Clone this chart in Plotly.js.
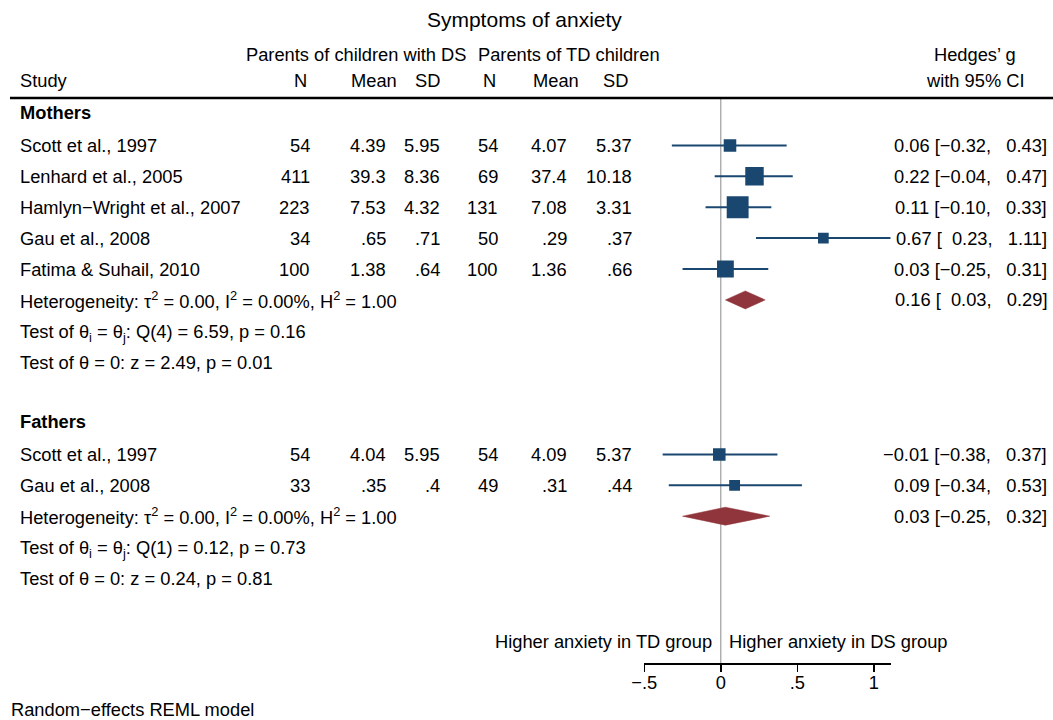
<!DOCTYPE html>
<html>
<head>
<meta charset="utf-8">
<script src="https://cdn.plot.ly/plotly-3.0.1.min.js"></script>
<style>html,body{margin:0;padding:0;background:#fff}</style>
</head>
<body>
<div id="chart" style="width:1053px;height:720px"></div>
<script>
// ---- Mothers ----
const mStudy  = ['Scott et al., 1997', 'Lenhard et al., 2005', 'Hamlyn\u2212Wright et al., 2007', 'Gau et al., 2008', 'Fatima & Suhail, 2010'];
const mNDS    = [54, 411, 223, 34, 100];
const mMeanDS = [4.39, 39.3, 7.53, 0.65, 1.38];
const mSdDS   = [5.95, 8.36, 4.32, 0.71, 0.64];
const mNTD    = [54, 69, 131, 50, 100];
const mMeanTD = [4.07, 37.4, 7.08, 0.29, 1.36];
const mSdTD   = ['5.37', '10.18', '3.31', '.37', '.66'];
const mG      = [0.06, 0.22, 0.11, 0.67, 0.03];
const mLo     = [-0.32, -0.04, -0.10, 0.23, -0.25];
const mHi     = [0.43, 0.47, 0.33, 1.11, 0.31];
const mWeight = [27.3, 59.1, 83.1, 19.8, 49.0];   // inverse-variance weights
const mPooled = [0.16, 0.03, 0.29];               // estimate, lower, upper
const mQ      = [4, 6.59, 0.16];                  // df, Q, p
const mZ      = [2.49, 0.01];                     // z, p

// ---- Fathers ----
const fStudy  = ['Scott et al., 1997', 'Gau et al., 2008'];
const fNDS    = [54, 33];
const fMeanDS = [4.04, 0.35];
const fSdDS   = [5.95, 0.4];
const fNTD    = [54, 49];
const fMeanTD = [4.09, 0.31];
const fSdTD   = ['5.37', '.44'];
const fG      = [-0.01, 0.09];
const fLo     = [-0.38, -0.34];
const fHi     = [0.37, 0.53];
const fWeight = [27.3, 20.3];
const fPooled = [0.03, -0.25, 0.32];
const fQ      = [1, 0.12, 0.73];
const fZ      = [0.24, 0.81];

const hetero = ['0.00', '0.00%', '1.00'];          // tau2, I2, H2 (same in both groups)

// ---- Axis ticks ----
const tickVals = [-0.5, 0, 0.5, 1];
const tickText = ['\u2212.5', '0', '.5', '1'];

// ---------------------------------------------------------------
const W = 1053, H = 720;
const FONT = '"Liberation Sans", Arial, Helvetica, sans-serif';
const FS = 18.3;
const NAVY = '#1a476f', MAROON = '#90353b';
const ROW0 = 114.5, PITCH = 30.9, AXIS_Y = 663;
const px = v => v / W;
const py = v => 1 - v / H;

const groups = [
  {name: 'Mothers', study: mStudy, nDS: mNDS, meanDS: mMeanDS, sdDS: mSdDS, nTD: mNTD, meanTD: mMeanTD, sdTD: mSdTD,
   g: mG, lo: mLo, hi: mHi, w: mWeight, pooled: mPooled, Q: mQ, Z: mZ},
  {name: 'Fathers', study: fStudy, nDS: fNDS, meanDS: fMeanDS, sdDS: fSdDS, nTD: fNTD, meanTD: fMeanTD, sdTD: fSdTD,
   g: fG, lo: fLo, hi: fHi, w: fWeight, pooled: fPooled, Q: fQ, Z: fZ}
];

const stataNum = v => String(v).replace(/^0\./, '.');
const est = v => (v < 0 ? '\u2212' : '') + Math.abs(v).toFixed(2);
const ci = v => (v < 0 ? '\u2212' : '\u2007') + Math.abs(v).toFixed(2);
const ciText = (g, lo, hi) => est(g) + ' [' + ci(lo) + ', ' + ci(hi) + ']';

const cols = [
  {key: 'nDS', x: 312}, {key: 'meanDS', x: 388}, {key: 'sdDS', x: 442},
  {key: 'nTD', x: 500}, {key: 'meanTD', x: 568.5}, {key: 'sdTD', x: 634}
];

const txt = (text, x, y, anchor, extra) => Object.assign({
  text: text, x: x, y: y, xref: 'paper', yref: 'y', xanchor: anchor, yanchor: 'middle',
  showarrow: false, font: {family: FONT, size: FS, color: '#000'}
}, extra || {});

const annotations = [];
const traces = [];
const halfH = 9 / PITCH;

let row = 0;
groups.forEach(gr => {
  annotations.push(txt('<b>' + gr.name + '</b>', px(18), row - 0.05, 'left'));
  const rows = gr.study.map((_, i) => row + 1 + i);
  gr.study.forEach((s, i) => {
    const r = rows[i];
    annotations.push(txt(s, px(18), r, 'left'));
    cols.forEach(c => annotations.push(txt(stataNum(gr[c.key][i]), px(c.x), r, 'right')));
    annotations.push(txt(ciText(gr.g[i], gr.lo[i], gr.hi[i]), px(1049), r, 'right'));
  });

  traces.push({
    type: 'scatter', mode: 'markers', x: gr.g, y: rows,
    marker: {symbol: 'square', color: NAVY, opacity: 1,
             size: gr.w.map(w => 2.4 * Math.sqrt(w)), line: {width: 0}},
    error_x: {type: 'data', symmetric: false,
              array: gr.hi.map((h, i) => h - gr.g[i]),
              arrayminus: gr.lo.map((l, i) => gr.g[i] - l),
              color: NAVY, thickness: 2, width: 0},
    hoverinfo: 'skip', showlegend: false
  });

  const pr = row + gr.study.length + 1;
  const [pg, plo, phi] = gr.pooled;
  traces.push({
    type: 'scatter', mode: 'lines', fill: 'toself', fillcolor: MAROON,
    x: [plo, pg, phi, pg, plo], y: [pr, pr - halfH, pr, pr + halfH, pr],
    line: {color: MAROON, width: 0.5}, hoverinfo: 'skip', showlegend: false
  });
  annotations.push(txt('Heterogeneity: \u03c4<sup>2</sup> = ' + hetero[0] + ', I<sup>2</sup> = ' + hetero[1] +
                       ', H<sup>2</sup> = ' + hetero[2], px(18), pr, 'left'));
  annotations.push(txt(ciText(pg, plo, phi), px(1049), pr, 'right'));
  annotations.push(txt('Test of \u03b8<sub>i</sub> = \u03b8<sub>j</sub>: Q(' + gr.Q[0] + ') = ' + gr.Q[1].toFixed(2) +
                       ', p = ' + gr.Q[2].toFixed(2), px(18), pr + 1.06, 'left'));
  annotations.push(txt('Test of \u03b8 = 0: z = ' + gr.Z[0].toFixed(2) + ', p = ' + gr.Z[1].toFixed(2), px(18), pr + 2.03, 'left'));
  row = pr + 4;
});

// Column headers and side labels
const head = (text, x, y, anchor) => txt(text, px(x), py(y), anchor, {yref: 'paper'});
annotations.push(
  head('Parents of children with DS', 356, 55, 'center'),
  head('Parents of TD children', 568.5, 55, 'center'),
  head('Study', 18, 80.5, 'left'),
  head('N', 300, 80.5, 'center'),
  head('Mean', 373.5, 80.5, 'center'),
  head('SD', 427, 80.5, 'center'),
  head('N', 489, 80.5, 'center'),
  head('Mean', 555.5, 80.5, 'center'),
  head('SD', 615, 80.5, 'center'),
  head('Hedges\u2019 g', 975, 55, 'center'),
  head('with 95% CI', 975, 80.5, 'center'),
  head('Higher anxiety in TD group', 714, 641, 'right'),
  head('Higher anxiety in DS group', 727, 641, 'left'),
  head('Random\u2212effects REML model', 9, 709.5, 'left')
);

const layout = {
  width: W, height: H,
  margin: {l: 0, r: 0, t: 0, b: 0, pad: 0},
  paper_bgcolor: '#fff', plot_bgcolor: 'rgba(0,0,0,0)',
  title: {text: 'Symptoms of anxiety', font: {family: FONT, size: 21, color: '#000'},
          x: 0.498, xanchor: 'center', xref: 'paper', y: py(20), yanchor: 'middle', yref: 'paper'},
  xaxis: {
    domain: [px(644.3), px(890.7)], range: [-0.5, 1.11],
    showgrid: false, zeroline: false, showline: true, linecolor: '#000', linewidth: 1.5,
    ticks: 'outside', ticklen: 7, tickwidth: 1.5, tickcolor: '#000',
    tickmode: 'array', tickvals: tickVals, ticktext: tickText, ticklabelstandoff: -4,
    tickfont: {family: FONT, size: FS, color: '#000'}, fixedrange: true
  },
  yaxis: {
    domain: [1 - AXIS_Y / H, 1],
    range: [(AXIS_Y - ROW0) / PITCH, -ROW0 / PITCH],
    visible: false, fixedrange: true
  },
  shapes: [
    {type: 'line', xref: 'paper', yref: 'paper', x0: px(10), x1: 1, y0: py(98), y1: py(98),
     line: {color: '#000', width: 2.5}},
    {type: 'line', xref: 'x', yref: 'paper', x0: 0, x1: 0, y0: 1 - AXIS_Y / H, y1: py(99),
     line: {color: '#8a8a8a', width: 1}, layer: 'below'}
  ],
  annotations: annotations,
  hovermode: false, showlegend: false
};

Plotly.newPlot('chart', traces, layout, {staticPlot: true, displayModeBar: false});
</script>
</body>
</html>
